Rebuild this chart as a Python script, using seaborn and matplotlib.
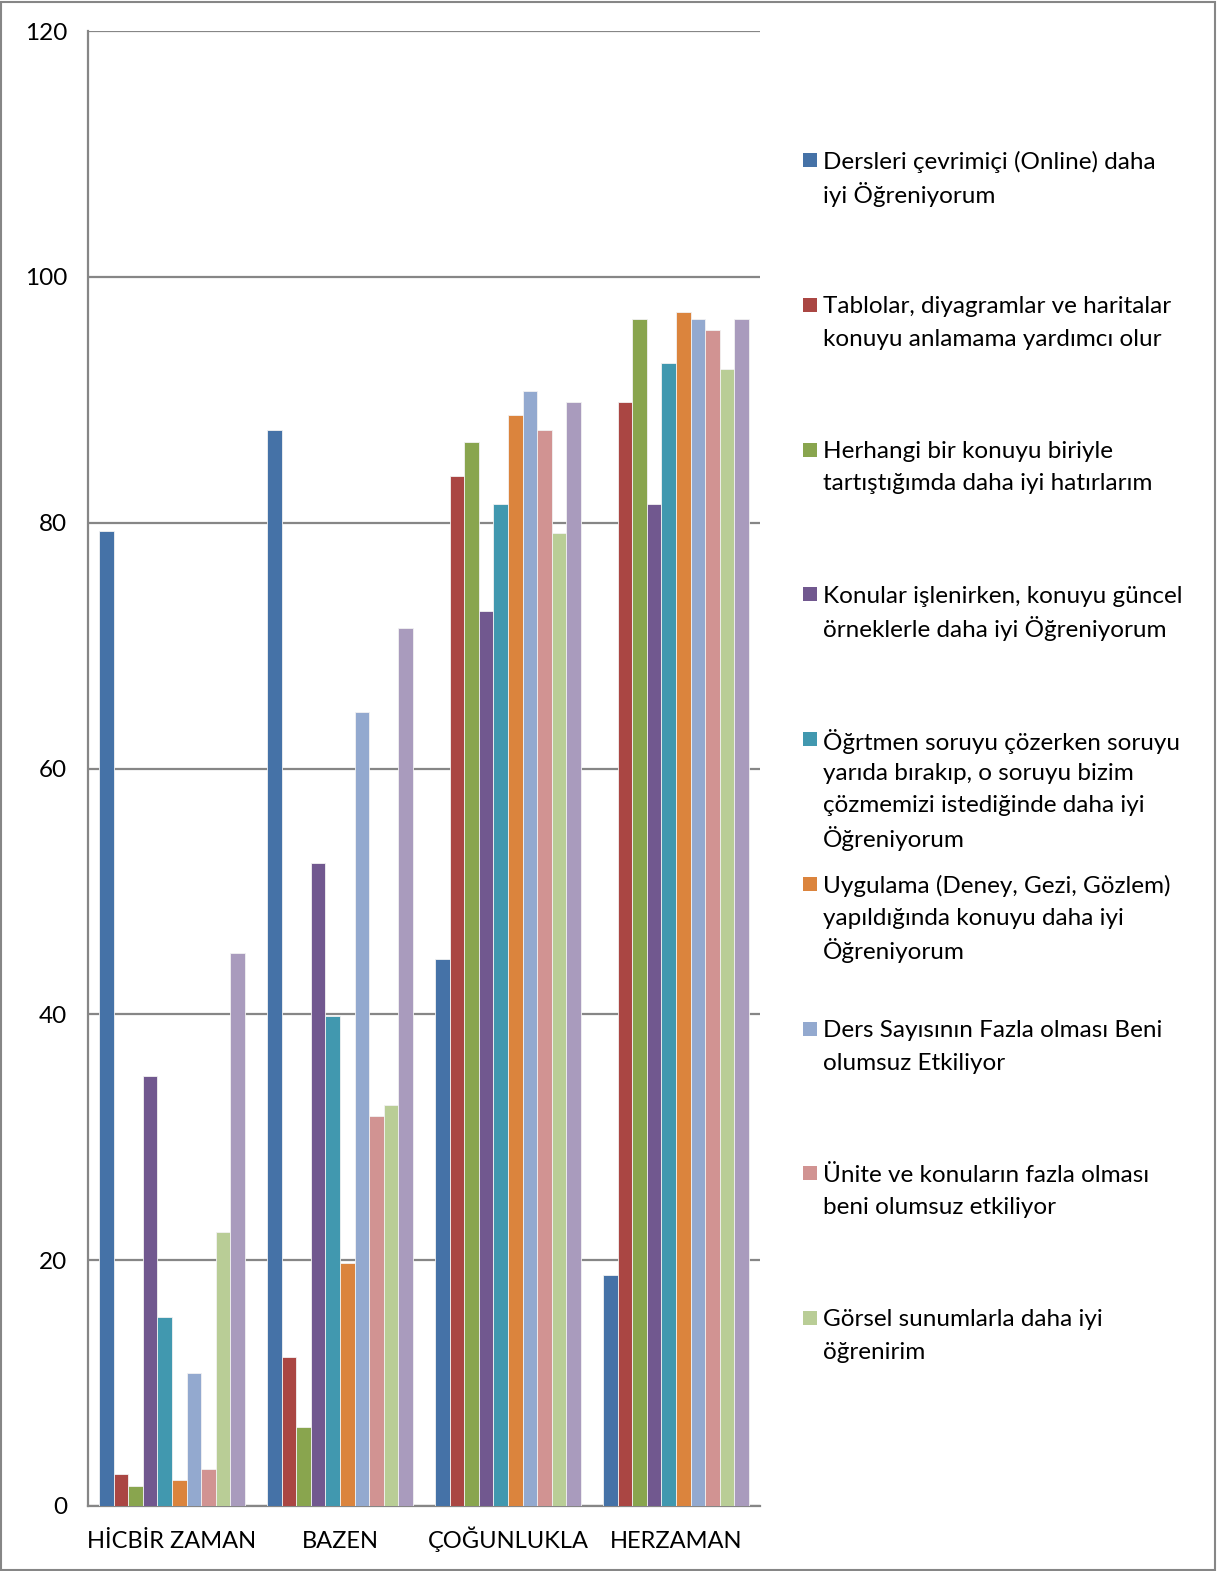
import matplotlib
matplotlib.use("Agg")
import matplotlib.pyplot as plt
import seaborn as sns
import pandas as pd
from matplotlib.patches import Rectangle

categories = ["HİCBİR ZAMAN", "BAZEN", "ÇOĞUNLUKLA", "HERZAMAN"]

series_names = [
    "Dersleri çevrimiçi (Online) daha\niyi Öğreniyorum",
    "Tablolar, diyagramlar ve haritalar\nkonuyu anlamama yardımcı olur",
    "Herhangi bir konuyu biriyle\ntartıştığımda daha iyi hatırlarım",
    "Konular işlenirken, konuyu güncel\nörneklerle daha iyi Öğreniyorum",
    "Öğrtmen soruyu çözerken soruyu\nyarıda bırakıp, o soruyu bizim\nçözmemizi istediğinde daha iyi\nÖğreniyorum",
    "Uygulama (Deney, Gezi, Gözlem)\nyapıldığında konuyu daha iyi\nÖğreniyorum",
    "Ders Sayısının Fazla olması Beni\nolumsuz Etkiliyor",
    "Ünite ve konuların fazla olması\nbeni olumsuz etkiliyor",
    "Görsel sunumlarla daha iyi\nöğrenirim",
    "Seri 10",
]
legend_count = 9

s1 = [79.3, 87.5, 44.5, 18.8]
s2 = [2.6, 12.1, 83.8, 89.8]
s3 = [1.6, 6.4, 86.6, 96.6]
s4 = [35.0, 52.3, 72.8, 81.5]
s5 = [15.4, 39.9, 81.5, 93.0]
s6 = [2.1, 19.8, 88.8, 97.1]
s7 = [10.8, 64.6, 90.7, 96.6]
s8 = [3.0, 31.7, 87.5, 95.7]
s9 = [22.3, 32.6, 79.2, 92.5]
s10 = [45.0, 71.4, 89.8, 96.6]
values = [s1, s2, s3, s4, s5, s6, s7, s8, s9, s10]

colors = ["#4572A7", "#AA4643", "#89A54E", "#71588F", "#4198AF",
          "#DB843D", "#93A9CF", "#D19392", "#B9CD96", "#A99BBD"]

y_ticks = [0, 20, 40, 60, 80, 100, 120]

rows = []
for name, vals in zip(series_names, values):
    for c, v in zip(categories, vals):
        rows.append({"cat": c, "series": name, "value": v})
df = pd.DataFrame(rows)

sns.set_style("white")
FONT = ["Lato", "DejaVu Sans"]
plt.rcParams["font.family"] = FONT
FS = 17.5

W, H = 1217, 1571
fig = plt.figure(figsize=(W / 100, H / 100), dpi=100)
ax = fig.add_axes([88 / W, 1 - 1506 / H, (760 - 88) / W, (1506 - 31) / H])

sns.barplot(data=df, x="cat", y="value", hue="series", order=categories,
            hue_order=series_names, palette=colors, saturation=1, width=0.87,
            edgecolor="#f2f2f2", linewidth=0.6, legend=False, ax=ax, zorder=3)

ax.set_xlim(-0.5, 3.5)
ax.set_ylim(0, 120)
ax.set_yticks(y_ticks)
ax.set_yticklabels([str(t) for t in y_ticks], fontsize=FS, color="#000000")
ax.set_xticks(range(len(categories)))
ax.set_xticklabels(categories, fontsize=17, color="#000000")
for lbl in ax.get_xticklabels():
    lbl.set_verticalalignment("baseline")
ax.set_xticks([i - 0.5 for i in range(len(categories) + 1)], minor=True)
ax.tick_params(axis="x", which="major", length=0, pad=30)
ax.tick_params(axis="x", which="minor", length=8, width=1.5, color="#868686", direction="out")
ax.tick_params(axis="y", which="major", length=6, width=1.5, color="#868686", pad=9, direction="out")
ax.set_xlabel("")
ax.set_ylabel("")

ax.yaxis.grid(True, color="#868686", linewidth=1.6, zorder=0)
ax.set_axisbelow(True)
for side in ["top", "right"]:
    ax.spines[side].set_visible(False)
for side in ["left", "bottom"]:
    ax.spines[side].set_color("#868686")
    ax.spines[side].set_linewidth(1.6)

# legend (Excel style, evenly spaced entries, fixed line pitch)
y_start = 160
spacing = 144.75
line_pitch = 32.5
for i in range(legend_count):
    yc = y_start + i * spacing
    fig.patches.append(Rectangle((803 / W, 1 - (yc + 7) / H), 14 / W, 14 / H,
                                 transform=fig.transFigure, facecolor=colors[i],
                                 edgecolor="none"))
    for j, line in enumerate(series_names[i].split("\n")):
        fig.text(823 / W, 1 - (yc + j * line_pitch) / H, line, fontsize=FS,
                 va="center_baseline", ha="left", family=FONT, color="#000000")

# outer border
fig.patches.append(Rectangle((1 / W, 1 / H), (W - 3) / W, (H - 3) / H,
                             transform=fig.transFigure, facecolor="none",
                             edgecolor="#868686", linewidth=1.5))

fig.savefig("out.png", dpi=100)
